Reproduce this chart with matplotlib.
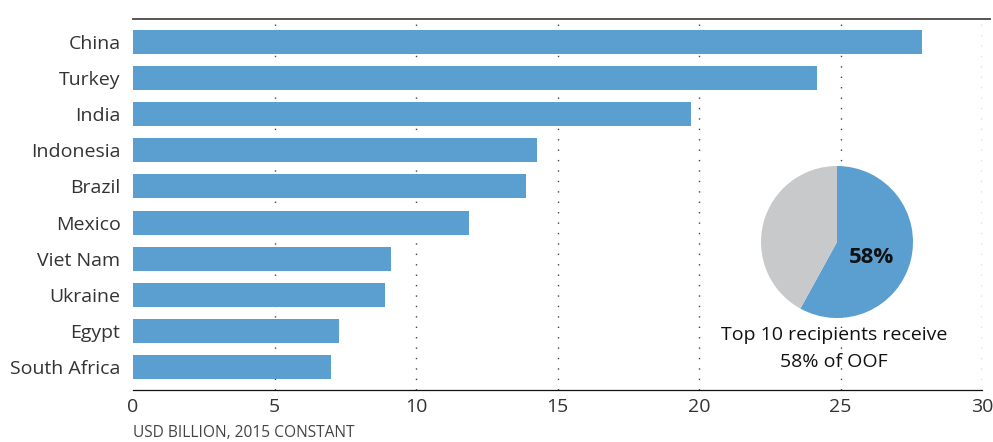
import matplotlib.pyplot as plt

plt.rcParams['font.family'] = ['Open Sans', 'DejaVu Sans']

# top 10 recipients of other official flows
countries = ["China", "Turkey", "India", "Indonesia", "Brazil",
             "Mexico", "Viet Nam", "Ukraine", "Egypt", "South Africa"]
values = [27.88, 24.17, 19.72, 14.28, 13.89, 11.87, 9.12, 8.9, 7.28, 7.0]
xticks = [0, 5, 10, 15, 20, 25, 30]

# share of total OOF going to the top 10
pie_share = [58, 42]

blue = "#5A9FD0"
grey = "#C8C9CB"
txt = "#333333"

fig = plt.figure(figsize=(9.93, 4.42), dpi=100)
ax = fig.add_axes([133 / 993, 52 / 442, 849 / 993, 371 / 442])

y = list(range(len(countries)))
ax.barh(y, values, height=0.665, color=blue, zorder=2)

ax.set_xlim(0, 30)
ax.set_ylim(len(countries) - 1 + 0.637, -0.637)
ax.set_yticks(y)
ax.set_yticklabels(countries, fontsize=14, color=txt)
ax.set_xticks(xticks)
ax.set_xticklabels([str(t) for t in xticks], fontsize=14, color=txt)
ax.tick_params(axis="y", length=0, pad=9)
ax.tick_params(axis="x", length=0, pad=6)

for t in xticks[1:]:
    ax.axvline(t, color="#444444", lw=1.0, linestyle=(0, (1, 6.5)), zorder=1)

for s in ["left", "right", "top"]:
    ax.spines[s].set_visible(False)
ax.spines["bottom"].set_color("#111111")
ax.spines["bottom"].set_linewidth(0.9)

# heavier rule across the top
ax.plot([0, 1.009], [1, 1], transform=ax.transAxes, color="#555555",
        lw=1.4, clip_on=False, zorder=3)

fig.text(133 / 993, 1 - 433 / 442, "USD BILLION, 2015 CONSTANT",
         fontsize=11.2, color="#444444", ha="left", va="center")

# pie inset
pax = fig.add_axes([(837 - 76) / 993, (442 - 242 - 76) / 442, 152 / 993, 152 / 442])
pax.pie(pie_share, colors=[blue, grey], startangle=90, counterclock=False,
        radius=1, wedgeprops=dict(linewidth=0))
pax.set_xlim(-1, 1)
pax.set_ylim(-1, 1)
pax.set_aspect("equal")
pax.axis("off")
pax.text(0.45, -0.21, f"{pie_share[0]}%", fontsize=16, fontweight="bold",
         color="#111111", ha="center", va="center")

fig.text(834 / 993, 1 - 335 / 442, "Top 10 recipients receive",
         fontsize=14, color="#111111", ha="center", va="center")
fig.text(834 / 993, 1 - 362 / 442, f"{pie_share[0]}% of OOF",
         fontsize=14, color="#111111", ha="center", va="center")

fig.savefig("out.png", dpi=100)
